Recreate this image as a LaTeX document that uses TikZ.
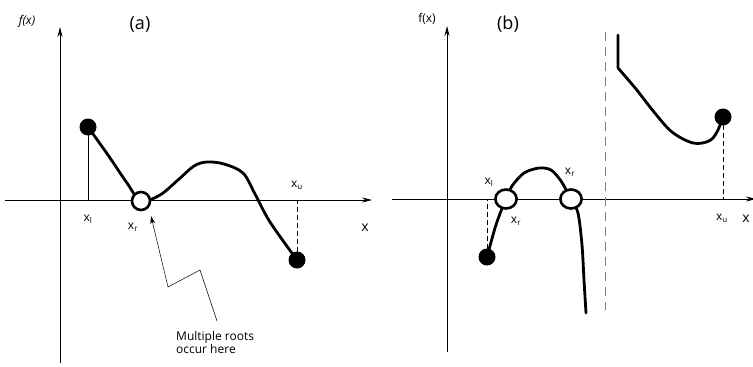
\documentclass[tikz,border=0pt]{standalone}
\usepackage{fontspec}
\setmainfont{Open Sans}
\usepackage{tikz}
\usetikzlibrary{arrows.meta,positioning,calc,shapes.geometric}

\begin{document}
\begin{tikzpicture}[x=1pt,y=-1pt,
    axis/.style={line width=0.8pt,-{Stealth[length=10pt,width=5pt]}},
    curve/.style={line width=2.8pt,line cap=round,line join=round},
    dot/.style={circle,fill=black,inner sep=0pt,minimum size=17pt},
    root/.style={circle,draw,line width=2.6pt,fill=white,inner sep=0pt,minimum size=#1},
    lbl/.style={font=\fontsize{12}{13}\selectfont,inner sep=1pt}]
  \useasboundingbox (0,0) rectangle (753,367);

  % ---------- (a) ----------
  \coordinate (oa) at (60,200);
  \draw[axis] (5,200) -- (372,200) coordinate (xa);
  \draw[axis] (60,363) -- (60,27) coordinate (ya);
  \node[lbl,font=\fontsize{12}{13}\selectfont\itshape] (fa) at (27,21) {f(x)};
  \node[font=\fontsize{18}{19}\selectfont] (ta) at (140,24) {(a)};

  \coordinate (la) at (88,127);
  \coordinate (ra) at (141,201);
  \coordinate (ua) at (297,260);
  \draw[curve] plot[smooth,tension=0.55] coordinates {(88,127) (108,155) (127,183) (141,201)
    (160,195) (178,180) (194,166) (207,162) (224,164) (243,173) (255,194) (270,222) (297,260)};
  \draw[line width=0.8pt] (la) -- (la |- oa);
  \draw[line width=0.9pt,dash pattern=on 5pt off 3pt] (ua) -- (ua |- oa);
  \node[dot] (dla) at (la) {};
  \node[dot] (dua) at (ua) {};
  \node[root=18pt] (cra) at (ra) {};

  \node[lbl] (xla) at (88,219) {x\textsubscript{l}};
  \node[lbl] (xra) at (133,227) {x\textsubscript{r}};
  \node[lbl] (xua) at (297,185) {x\textsubscript{u}};
  \node[lbl,font=\fontsize{14}{15}\selectfont] (xa) at (365,228) {x};

  \node[lbl,align=left,anchor=north west] (note) at (175,330) {Multiple roots\\occur here};
  \draw[line width=0.5pt,-{Stealth[length=8pt,width=5pt]}] (217,321) -- (200,270) -- (168,287) -- (151,216);

  % ---------- (b) ----------
  \coordinate (ob) at (447,199);
  \draw[axis] (392,199) -- (756,199) coordinate (xb);
  \draw[axis] (447,352) -- (447,26) coordinate (yb);
  \node[lbl] (fb) at (427,19) {f(x)};
  \node[font=\fontsize{18}{19}\selectfont] (tb) at (508,24) {(b)};

  \draw[gray,line width=0.8pt,dash pattern=on 9pt off 6pt] (605,32) -- (605,310);

  \coordinate (lb) at (487,257);
  \coordinate (r1b) at (506,199);
  \coordinate (r2b) at (571,199);
  \coordinate (ub) at (723,117);
  \draw[curve] plot[smooth,tension=0.5] coordinates {(487,257) (495,228) (501,211) (506,199)
    (512,186) (524,173) (539,168) (551,170) (561,181) (571,199) (578,213) (582,245) (584,280) (586,313)};
  \draw[curve] (618,35) -- (618,68)
    plot[smooth,tension=0.55] coordinates {(618,68) (636,89) (654,112) (672,132) (693,143) (709,141) (717,132) (723,117)};
  \draw[line width=0.9pt,dash pattern=on 5pt off 3pt] (lb) -- (lb |- ob);
  \draw[line width=0.9pt,dash pattern=on 5pt off 3pt] (ub) -- (ub |- ob);
  \node[dot] (dlb) at (lb) {};
  \node[dot] (dub) at (ub) {};
  \node[root=19pt,xscale=1.12] (cr1b) at (r1b) {};
  \node[root=19pt,xscale=1.12] (cr2b) at (r2b) {};

  \node[lbl] (xlb) at (489,182) {x\textsubscript{l}};
  \node[lbl] (xr1b) at (516,221) {x\textsubscript{r}};
  \node[lbl] (xr2b) at (570,172) {x\textsubscript{r}};
  \node[lbl] (xub) at (722,218) {x\textsubscript{u}};
  \node[lbl,font=\fontsize{14}{15}\selectfont] (xbl) at (746,219) {x};
\end{tikzpicture}
\end{document}
